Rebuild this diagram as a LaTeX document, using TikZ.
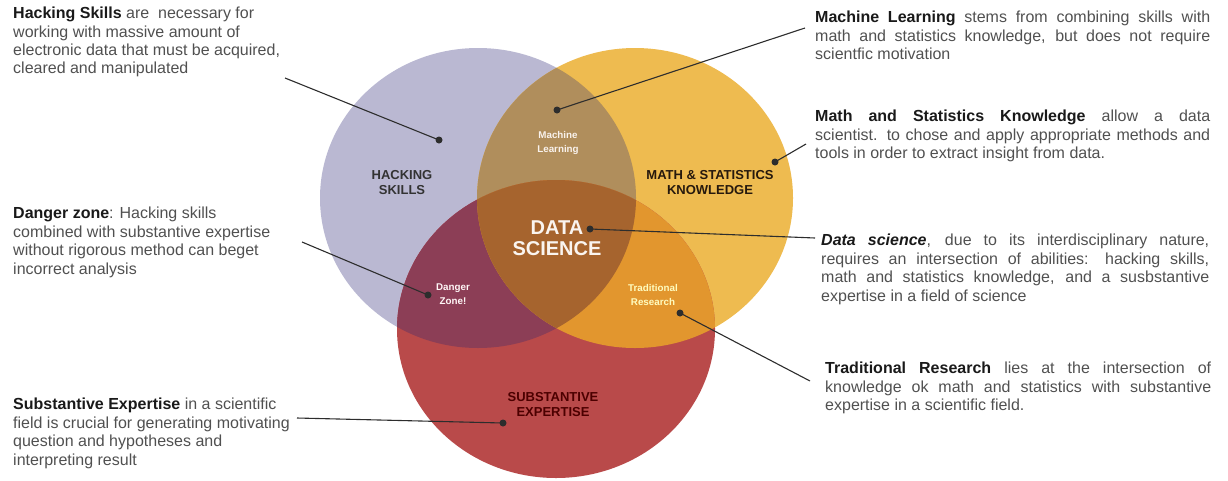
\documentclass[tikz,border=0pt]{standalone}
\usepackage{fontspec}
\setmainfont{Liberation Sans}
\usetikzlibrary{positioning}

\definecolor{hackcol}{RGB}{186,184,210}
\definecolor{mathcol}{RGB}{238,187,80}
\definecolor{subcol}{RGB}{185,74,74}
\definecolor{mlcol}{RGB}{176,142,92}
\definecolor{dangercol}{RGB}{140,62,86}
\definecolor{tradcol}{RGB}{226,150,46}
\definecolor{dscol}{RGB}{166,100,46}
\definecolor{leadcol}{RGB}{45,45,45}
\definecolor{bodycol}{RGB}{80,80,80}

% the three sets
\newcommand{\hackarea}{(478,198) ellipse [x radius=158pt, y radius=150pt]}
\newcommand{\matharea}{(635,198) ellipse [x radius=158pt, y radius=150pt]}
\newcommand{\subarea}{(556,329) ellipse [x radius=159pt, y radius=149pt]}
\newcommand{\hd}[1]{\textbf{\color{black!90}#1}}

\tikzset{
  dot/.style={circle,fill=leadcol,inner sep=0pt,minimum size=7pt},
  leader/.style={draw=leadcol,line width=1.1pt},
  note/.style={anchor=north west,inner sep=0pt,text=bodycol,
    font=\fontsize{16}{18.4}\selectfont},
  notel/.style={note,align=left},
  noter/.style={note,text width=395pt,align=justify},
  setlabel/.style={font=\bfseries\fontsize{13}{15}\selectfont,align=center},
  zonelabel/.style={font=\bfseries\fontsize{9.8}{14}\selectfont,align=center}
}

\begin{document}
\begin{tikzpicture}[x=1pt,y=-1pt]
\useasboundingbox (0,0) rectangle (1228,480);

% sets and their overlaps
\fill[hackcol] \hackarea;
\fill[mathcol] \matharea;
\fill[subcol] \subarea;
\begin{scope}
  \clip \hackarea;
  \fill[mlcol] \matharea;
  \fill[dangercol] \subarea;
\end{scope}
\begin{scope}
  \clip \matharea;
  \fill[tradcol] \subarea;
\end{scope}
\begin{scope}
  \clip \hackarea;
  \clip \matharea;
  \fill[dscol] \subarea;
\end{scope}

% labels inside
\node[setlabel,text=black!80] (hack) at (402,183) {HACKING\\SKILLS};
\node[setlabel,text=black!80!brown] (math) at (710,183) {MATH \& STATISTICS\\KNOWLEDGE};
\node[setlabel,text=black!70!red] (sub) at (553,405) {SUBSTANTIVE\\EXPERTISE};
\node[zonelabel,text=white!90!brown] (ml) at (558,143) {Machine\\Learning};
\node[zonelabel,text=white!88!pink] (danger) at (453,294) {Danger\\Zone!};
\node[zonelabel,text=yellow!25] (trad) at (653,295) {Traditional\\Research};
\node[font=\bfseries\fontsize{20}{21.5}\selectfont,align=center,text=white!92!brown] (ds) at (557,238) {DATA\\SCIENCE};

% dots
\node[dot] (hackdot) at (439,140) {};
\node[dot] (mldot) at (557,110) {};
\node[dot] (mathdot) at (775,162) {};
\node[dot] (dsdot) at (590,229) {};
\node[dot] (dangerdot) at (428,295) {};
\node[dot] (traddot) at (680,313) {};
\node[dot] (subdot) at (503,423) {};

% notes
\node[notel] (hacknote) at (13,7) {\hd{Hacking Skills} are\ \ necessary for\\working with massive amount of\\electronic data that must be acquired,\\cleared and manipulated};
\node[notel] (dangernote) at (13,207) {\hd{Danger zone}: Hacking skills\\combined with substantive expertise\\without rigorous method can beget\\incorrect analysis};
\node[notel] (subnote) at (13,398) {\hd{Substantive Expertise} in a scientific\\field is crucial for generating motivating\\question and hypotheses and\\interpreting result};
\node[noter] (mlnote) at (815,11) {\hd{Machine Learning} stems from combining skills with\linebreak math and statistics knowledge, but does not require\linebreak scientfic motivation};
\node[noter] (mathnote) at (815,110) {\hd{Math and Statistics Knowledge} allow a data\linebreak scientist. to chose and apply appropriate methods and\linebreak tools in order to extract insight from data.};
\node[noter,text width=388pt] (dsnote) at (821,234) {\hd{\itshape Data science}, due to its interdisciplinary nature,\linebreak requires an intersection of abilities: hacking skills,\linebreak math and statistics knowledge, and a susbstantive\linebreak expertise in a field of science};
\node[noter,text width=386pt] (tradnote) at (825,362) {\hd{Traditional Research} lies at the intersection of\linebreak knowledge ok math and statistics with substantive\linebreak expertise in a scientific field.};

% leaders
\coordinate (hackend) at (285,78);
\coordinate (mlend) at (805,28);
\coordinate (mathend) at (806,144);
\coordinate (dsend) at (815,238);
\coordinate (dangerend) at (302,242);
\coordinate (tradend) at (810,381);
\coordinate (subend) at (297,418);
\draw[leader] (hackend) -- (hackdot.center);
\draw[leader] (mlend) -- (mldot.center);
\draw[leader] (mathend) -- (mathdot.center);
\draw[leader] (dsend) -- (dsdot.center);
\draw[leader] (dangerend) -- (dangerdot.center);
\draw[leader] (tradend) -- (traddot.center);
\draw[leader] (subend) -- (subdot.center);
\end{tikzpicture}
\end{document}
